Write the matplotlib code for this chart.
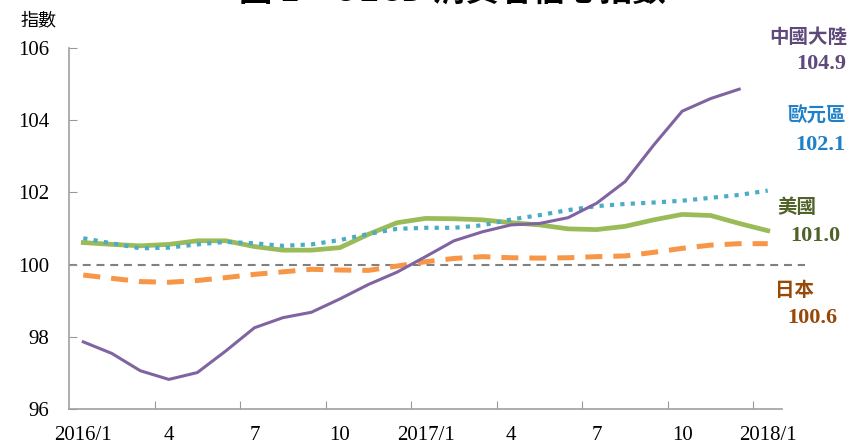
import matplotlib
matplotlib.use("Agg")
import matplotlib.pyplot as plt

# monthly index, 2016/1 .. 2018/1
months = ["2016/1", "", "", "4", "", "", "7", "", "", "10", "", "",
          "2017/1", "", "", "4", "", "", "7", "", "", "10", "", "", "2018/1"]

china = [97.86, 97.54, 97.06, 96.82, 97.01, 97.61, 98.25, 98.53, 98.68, 99.05,
         99.45, 99.79, 100.22, 100.66, 100.91, 101.10, 101.14, 101.30, 101.70,
         102.30, 103.31, 104.25, 104.60, 104.86]
euro = [100.73, 100.59, 100.45, 100.47, 100.56, 100.63, 100.59, 100.52, 100.56,
        100.68, 100.85, 100.99, 101.02, 101.02, 101.09, 101.25, 101.37, 101.51,
        101.62, 101.68, 101.72, 101.77, 101.85, 101.93, 102.05]
usa = [100.61, 100.56, 100.52, 100.56, 100.66, 100.66, 100.50, 100.40, 100.40,
       100.47, 100.84, 101.16, 101.28, 101.27, 101.24, 101.16, 101.10, 100.99,
       100.97, 101.06, 101.24, 101.39, 101.36, 101.14, 100.94]
japan = [99.71, 99.62, 99.53, 99.51, 99.56, 99.64, 99.73, 99.80, 99.87, 99.85,
         99.84, 99.96, 100.08, 100.17, 100.22, 100.19, 100.18, 100.19, 100.22,
         100.24, 100.34, 100.45, 100.54, 100.58, 100.58]

names = ["中國大陸", "歐元區", "美國", "日本"]
last_vals = ["104.9", "102.1", "101.0", "100.6"]

cjk = ["Noto Sans CJK TC", "DejaVu Sans"]
serif = ["Liberation Serif", "DejaVu Serif"]
plt.rcParams["font.family"] = serif

fig = plt.figure(figsize=(8.5, 4.47), dpi=100)
ax = fig.add_axes([0.0812, 0.085, 0.8388, 0.8076])

x = list(range(len(months)))
ax.axhline(100, xmin=0, xmax=1.032, color="#808080", lw=1.5,
           dashes=(3.8, 2.8), clip_on=False, zorder=1)
ax.plot(x[:len(japan)], japan, color="#f79646", lw=3.6, dashes=(3.4, 2.2),
        solid_capstyle="butt", zorder=2)
ax.plot(x[:len(usa)], usa, color="#9bbb59", lw=3.4, zorder=3)
ax.plot(x[:len(euro)], euro, color="#4bacc6", lw=3.0, dashes=(1.0, 1.5),
        dash_capstyle="butt", zorder=4)
ax.plot(x[:len(china)], china, color="#8064a2", lw=2.2, zorder=5)

ax.set_xlim(-0.5, len(months) - 0.5)
ax.set_ylim(96, 106)
ax.set_yticks([96, 98, 100, 102, 104, 106])

# labels at category centres, tick marks at category boundaries
lab_pos = [i for i, m in enumerate(months) if m]
ax.set_xticks(lab_pos, minor=True)
ax.set_xticklabels([months[i] for i in lab_pos], minor=True)
ax.set_xticks([p + 2.5 for p in lab_pos[:-1]])
ax.set_xticklabels([])
ax.tick_params(axis="x", which="minor", length=0, pad=12, labelsize=15)
ax.tick_params(axis="x", which="major", direction="in", length=6,
               color="#999999")
ax.tick_params(axis="y", direction="in", length=6, color="#999999", pad=14,
               labelsize=15)

for s in ["top", "right"]:
    ax.spines[s].set_visible(False)
for s in ["left", "bottom"]:
    ax.spines[s].set_color("#a0a0a0")
    ax.spines[s].set_linewidth(1.2)

fig.text(0.045, 0.955, "指數", family=cjk, fontsize=13, ha="center",
         va="center")
fig.text(0.532, 0.982, "圖 1　OECD 消費者信心指數", family=cjk, fontsize=24,
         fontweight="bold", ha="center", va="bottom")

name_cols = ["#5f497a", "#1f80c8", "#4f6228", "#984807"]
name_pos = [(0.997, 0.917), (0.995, 0.740), (0.960, 0.535), (0.958, 0.351)]
val_pos = [(0.995, 0.857), (0.994, 0.676), (0.989, 0.472), (0.985, 0.289)]
for nm, v, c, (nx, ny), (vx, vy) in zip(names, last_vals, name_cols,
                                        name_pos, val_pos):
    fig.text(nx, ny, nm, family=cjk, fontsize=14, fontweight="bold",
             color=c, ha="right", va="center")
    fig.text(vx, vy, v, fontsize=16, fontweight="bold",
             color=c, ha="right", va="center")

fig.savefig("out.png", dpi=100)
